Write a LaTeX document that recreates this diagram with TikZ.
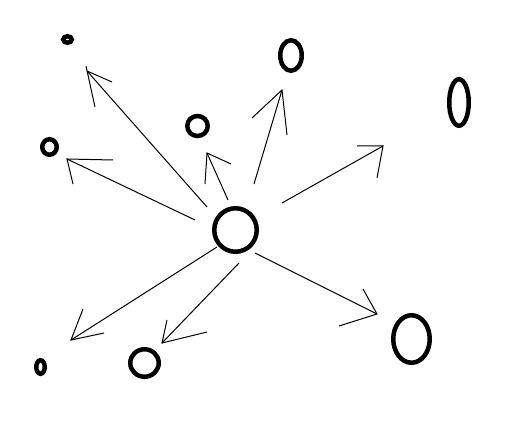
\documentclass[tikz,border=0pt]{standalone}
\usetikzlibrary{shapes.geometric}
\begin{document}
\begin{tikzpicture}[x=1pt,y=-1pt,
  ring/.style={ellipse,draw,line width=4.5pt,inner sep=0pt,outer sep=0pt},
  shaft/.style={line width=1pt},
  head/.style={line width=1pt}]
\useasboundingbox (0,0) rectangle (506,427);
% ellipses
\node[ring,minimum width=42.5pt,minimum height=43.5pt] (c) at (235.5,230) {};
\node[ring,minimum width=8.5pt,minimum height=6.5pt] (e1) at (67.5,39.5) {};
\node[ring,minimum width=20.5pt,minimum height=20pt] (e2) at (197.5,126) {};
\node[ring,minimum width=14.5pt,minimum height=15.5pt] (e3) at (49.5,147) {};
\node[ring,minimum width=21.5pt,minimum height=30.5pt] (e4) at (291,55.5) {};
\node[ring,minimum width=19.5pt,minimum height=46.5pt] (e5) at (459,102.5) {};
\node[ring,minimum width=8.5pt,minimum height=13.5pt] (e6) at (40.5,367) {};
\node[ring,minimum width=28.5pt,minimum height=27.5pt] (e7) at (144.5,363) {};
\node[ring,minimum width=36.5pt,minimum height=47.5pt] (e8) at (411.5,339) {};
% arrow 1 (upper left)
\coordinate (s1) at (207,207); \coordinate (t1) at (87,71);
\coordinate (h1a) at (112,82); \coordinate (h1b) at (86,66); \coordinate (h1c) at (95,107);
\draw[shaft] (s1) -- (t1);
\draw[head] (t1) -- (h1a) (h1b) -- (h1c);
% arrow 2 (left)
\coordinate (s2) at (195,220); \coordinate (t2) at (67,159);
\coordinate (h2a) at (113,160); \coordinate (h2b) at (73,184);
\draw[shaft] (s2) -- (t2);
\draw[head] (h2a) -- (t2) -- (h2b);
% arrow 3 (to small circle)
\coordinate (s3) at (228,200); \coordinate (t3) at (207,153);
\coordinate (h3a) at (231,164); \coordinate (h3b) at (205,184);
\draw[shaft] (s3) -- (t3);
\draw[head] (h3a) -- (t3) -- (h3b);
% arrow 4 (up)
\coordinate (s4) at (254,184); \coordinate (t4) at (282,90);
\coordinate (h4a) at (252,118); \coordinate (h4b) at (287,135);
\draw[shaft] (s4) -- (t4);
\draw[head] (h4a) -- (t4) -- (h4b);
% arrow 5 (upper right)
\coordinate (s5) at (282,203); \coordinate (t5) at (383,146);
\coordinate (h5a) at (357,146); \coordinate (h5b) at (377,178);
\draw[shaft] (s5) -- (t5);
\draw[head] (h5a) -- (t5) -- (h5b);
% arrow 6 (lower left)
\coordinate (s6) at (217,247); \coordinate (t6) at (71,340);
\coordinate (h6a) at (83,309); \coordinate (h6b) at (104,333);
\draw[shaft] (s6) -- (t6);
\draw[head] (h6a) -- (t6) -- (h6b);
% arrow 7 (down)
\coordinate (s7) at (239,263); \coordinate (t7) at (162,343);
\coordinate (h7a) at (167,320); \coordinate (h7b) at (207,332);
\draw[shaft] (s7) -- (t7);
\draw[head] (h7a) -- (t7) -- (h7b);
% arrow 8 (lower right)
\coordinate (s8) at (255,253); \coordinate (t8) at (377,314);
\coordinate (h8a) at (363,289); \coordinate (h8b) at (339,326);
\draw[shaft] (s8) -- (t8);
\draw[head] (h8a) -- (t8) -- (h8b);
\end{tikzpicture}
\end{document}
